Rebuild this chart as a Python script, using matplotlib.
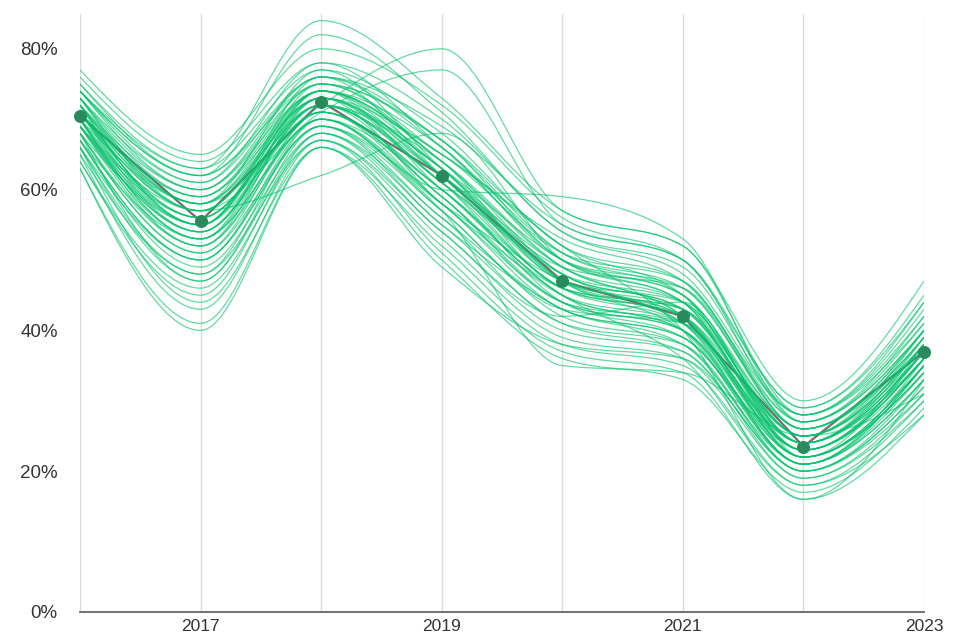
import numpy as np
import matplotlib
matplotlib.use('Agg')
import matplotlib.pyplot as plt
from matplotlib.path import Path
from matplotlib.patches import PathPatch

plt.rcParams['font.family'] = ['Liberation Sans', 'DejaVu Sans']

# ── Data (share in %, one row per simulated run, columns = years) ──
years = [2016, 2017, 2018, 2019, 2020, 2021, 2022, 2023]
mean_share = [70.5, 55.5, 72.5, 62.0, 47.0, 42.0, 23.5, 37.0]

runs = [
    [76, 64, 78, 70, 54, 48, 28, 42],
    [74, 63, 77, 68, 52, 47, 27, 41],
    [75, 62, 76, 69, 55, 50, 29, 44],
    [73, 61, 76, 66, 51, 46, 27, 40],
    [72, 60, 75, 67, 50, 45, 26, 39],
    [74, 60, 74, 65, 53, 47, 28, 41],
    [71, 59, 75, 64, 49, 44, 25, 38],
    [73, 58, 74, 66, 50, 46, 26, 40],
    [70, 58, 73, 63, 48, 43, 25, 37],
    [72, 57, 74, 64, 47, 44, 24, 38],
    [71, 57, 73, 62, 49, 42, 24, 37],
    [69, 56, 72, 63, 46, 43, 23, 36],
    [70, 56, 72, 61, 48, 41, 24, 36],
    [72, 55, 73, 62, 47, 42, 23, 37],
    [68, 55, 71, 60, 45, 40, 22, 35],
    [71, 54, 72, 61, 46, 42, 23, 36],
    [69, 54, 71, 59, 44, 41, 22, 35],
    [70, 53, 70, 60, 45, 40, 21, 34],
    [67, 53, 70, 58, 43, 39, 22, 34],
    [69, 52, 71, 59, 44, 40, 21, 35],
    [68, 51, 69, 57, 42, 38, 20, 33],
    [66, 50, 69, 56, 43, 39, 21, 33],
    [67, 49, 68, 55, 41, 37, 20, 32],
    [65, 48, 67, 54, 40, 37, 19, 31],
    [68, 47, 68, 56, 41, 38, 20, 32],
    [64, 46, 67, 53, 39, 36, 19, 30],
    [66, 44, 66, 52, 38, 35, 18, 30],
    [63, 41, 66, 50, 36, 33, 17, 29],
    [65, 43, 67, 51, 37, 34, 16, 28],
    [77, 65, 80, 72, 56, 50, 29, 45],
    [75, 63, 84, 73, 57, 52, 30, 47],
    [74, 62, 82, 71, 54, 49, 28, 43],
    [72, 58, 72, 80, 57, 52, 28, 44],
    [71, 57, 71, 77, 55, 50, 27, 42],
    [69, 57, 62, 68, 50, 44, 24, 37],
    [66, 48, 70, 60, 59, 53, 27, 40],
    [67, 50, 69, 57, 35, 34, 25, 31],
    [70, 52, 73, 58, 45, 36, 18, 28],
    [72, 55, 75, 65, 52, 40, 16, 33],
    [64, 45, 68, 54, 42, 44, 22, 38],
    [71, 58, 77, 63, 47, 41, 21, 36],
    [73, 60, 76, 67, 51, 45, 24, 39],
    [69, 53, 74, 60, 46, 43, 25, 40],
    [71, 56, 72, 62, 49, 46, 26, 38],
    [68, 52, 70, 58, 47, 42, 22, 34],
    [70, 54, 72, 61, 44, 39, 23, 37],
    [66, 47, 69, 55, 43, 38, 21, 33],
    [72, 59, 74, 64, 48, 43, 24, 36],
    [74, 61, 78, 66, 50, 44, 23, 35],
    [63, 40, 66, 49, 38, 36, 20, 31],
    [73, 57, 73, 63, 50, 45, 25, 39],
    [70, 55, 74, 62, 47, 43, 24, 38],
    [71, 56, 71, 60, 46, 41, 23, 36],
    [69, 54, 73, 61, 48, 44, 26, 39],
    [72, 58, 72, 64, 49, 42, 22, 35],
    [70, 53, 72, 59, 45, 41, 24, 37],
    [68, 51, 71, 58, 44, 40, 23, 36],
    [71, 55, 76, 62, 46, 42, 25, 38],
    [73, 59, 73, 65, 51, 47, 26, 40],
    [67, 50, 70, 57, 43, 41, 22, 34],
    [74, 62, 75, 67, 52, 45, 25, 38],
    [69, 55, 74, 63, 47, 40, 21, 35],
]

year_labels = ['', '2017', '', '2019', '', '2021', '', '2023']
y_ticks = [0, 20, 40, 60, 80]


def monotone_path(xs, ys):
    """Smooth monotone-x cubic through the points, as a bezier Path."""
    xs = np.asarray(xs, float)
    ys = np.asarray(ys, float)
    n = len(xs)
    h = np.diff(xs)
    s = np.diff(ys) / h
    t = np.zeros(n)
    for i in range(1, n - 1):
        p = (s[i - 1] * h[i] + s[i] * h[i - 1]) / (h[i - 1] + h[i])
        t[i] = (np.sign(s[i - 1]) + np.sign(s[i])) * min(abs(s[i - 1]), abs(s[i]), 0.5 * abs(p))
    t[0] = (3 * s[0] - t[1]) / 2
    t[-1] = (3 * s[-1] - t[-2]) / 2
    verts = [(xs[0], ys[0])]
    codes = [Path.MOVETO]
    for i in range(n - 1):
        d = h[i] / 3
        verts += [(xs[i] + d, ys[i] + d * t[i]),
                  (xs[i + 1] - d, ys[i + 1] - d * t[i + 1]),
                  (xs[i + 1], ys[i + 1])]
        codes += [Path.CURVE4] * 3
    return Path(verts, codes)


fig = plt.figure(figsize=(9.64, 6.39), dpi=100)
ax = fig.add_axes([0.083, 0.0423, 0.8755, 0.9364])

ax.plot(years, mean_share, color='#6f6f6f', lw=1.6, zorder=2)

for r in runs:
    ax.add_patch(PathPatch(monotone_path(years, r), facecolor='none',
                           edgecolor='#06c26c', lw=0.9, alpha=0.62, zorder=3))

ax.scatter(years, mean_share, s=70, color='#2b8a5c', zorder=4, clip_on=False)

ax.set_xlim(2016, 2023)
ax.set_ylim(0, 85)
ax.set_xticks(years)
ax.set_xticklabels(year_labels)
ax.set_yticks(y_ticks)
ax.set_yticklabels([f'{v}%' for v in y_ticks])
ax.tick_params(axis='x', length=0, pad=5, labelsize=12.5, labelcolor='#333333')
ax.tick_params(axis='y', length=0, pad=16, labelsize=13.5, labelcolor='#333333')
ax.grid(axis='x', color='#dcdcdc', lw=1)
ax.set_axisbelow(True)
for side in ['top', 'right', 'left']:
    ax.spines[side].set_visible(False)
ax.spines['bottom'].set_color('#666666')
ax.spines['bottom'].set_linewidth(1.3)

fig.savefig('out.png', dpi=100)
